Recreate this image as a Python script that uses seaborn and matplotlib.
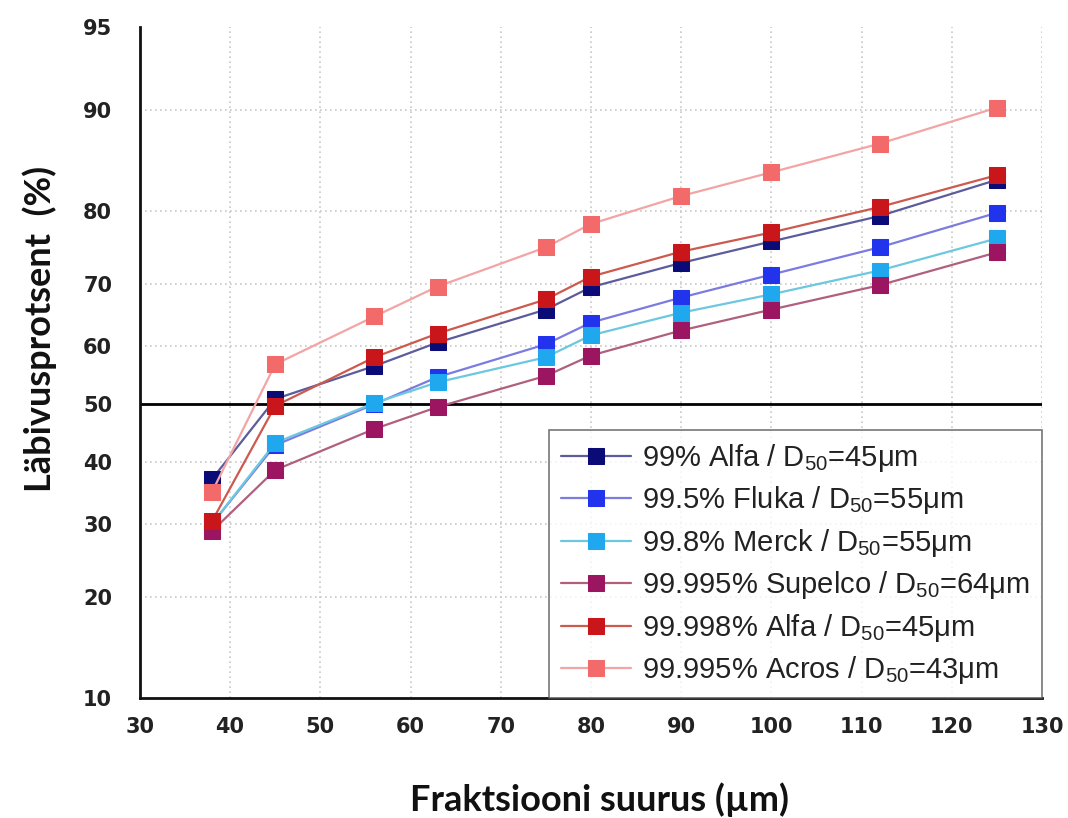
import seaborn as sns
import matplotlib.pyplot as plt
import numpy as np
import pandas as pd
from statistics import NormalDist

# ---------------- DATA ----------------
size_um = [38, 45, 56, 63, 75, 80, 90, 100, 112, 125]

alfa_99 = [37.2, 50.9, 56.6, 60.6, 66.0, 69.5, 73.1, 76.1, 79.4, 83.6]
fluka_995 = [30.1, 42.9, 50.0, 54.7, 60.3, 63.9, 67.9, 71.4, 75.3, 79.8]
merck_998 = [30.1, 43.3, 50.2, 53.8, 58.1, 61.8, 65.5, 68.4, 72.0, 76.5]
supelco_99995 = [29.0, 38.7, 45.7, 49.5, 54.9, 58.4, 62.6, 66.0, 69.8, 74.6]
alfa_99998 = [30.5, 49.7, 58.1, 62.1, 67.6, 71.1, 74.7, 77.3, 80.5, 84.1]
acros_99995 = [35.1, 56.9, 64.9, 69.6, 75.3, 78.4, 81.8, 84.4, 87.2, 90.2]

labels = [
    r"99% Alfa / D$_{\mathrm{50}}$=45μm",
    r"99.5% Fluka / D$_{\mathrm{50}}$=55μm",
    r"99.8% Merck / D$_{\mathrm{50}}$=55μm",
    r"99.995% Supelco / D$_{\mathrm{50}}$=64μm",
    r"99.998% Alfa / D$_{\mathrm{50}}$=45μm",
    r"99.995% Acros / D$_{\mathrm{50}}$=43μm",
]
series = [alfa_99, fluka_995, merck_998, supelco_99995, alfa_99998, acros_99995]

marker_colors = ["#0b0b78", "#2233ee", "#1fa8ee", "#9b1560", "#c8161a", "#f26a6a"]
line_colors = ["#5c5c9c", "#7b7be0", "#6cc8e0", "#b0607e", "#cc5a4e", "#f3a4a4"]

yticks = [10, 20, 30, 40, 50, 60, 70, 80, 90, 95]
xticks = [30, 40, 50, 60, 70, 80, 90, 100, 110, 120, 130]

df = pd.DataFrame({"size": size_um * len(series),
                   "pct": sum(series, []),
                   "sample": np.repeat(labels, len(size_um))})

# ---------------- PROBABILITY SCALE ----------------
nd = NormalDist()


def fwd(p):
    p = np.clip(np.asarray(p, dtype=float), 0.01, 99.99)
    return np.vectorize(lambda v: nd.inv_cdf(v / 100.0), otypes=[float])(p)


def inv(z):
    z = np.asarray(z, dtype=float)
    return np.vectorize(lambda v: nd.cdf(v) * 100.0, otypes=[float])(z)


sns.set_style("white")
plt.rcParams["mathtext.fontset"] = "custom"
plt.rcParams["mathtext.rm"] = "Liberation Sans"
plt.rcParams["mathtext.it"] = "Liberation Sans:italic"

fig = plt.figure(figsize=(10.68, 8.18), dpi=100)
ax = fig.add_axes([0.131, 0.1467, 0.8446, 0.8203])
ax.set_yscale("function", functions=(fwd, inv))

for lab, mc, lc in zip(labels, marker_colors, line_colors):
    sns.lineplot(data=df[df["sample"] == lab], x="size", y="pct", ax=ax,
                 color=lc, linewidth=1.6, marker="s", markersize=11,
                 markerfacecolor=mc, markeredgecolor=mc, label=lab)

ax.axhline(50, color="black", linewidth=2, zorder=1)

tick_font = {"fontsize": 15, "fontweight": "bold", "family": "DejaVu Sans",
             "color": "#222222"}
ax.set_xlim(30, 130)
ax.set_ylim(10, 95)
ax.set_xticks(xticks)
ax.set_yticks(yticks)
ax.set_xticklabels([str(t) for t in xticks], **tick_font)
ax.set_yticklabels([str(t) for t in yticks], **tick_font)
ax.minorticks_off()

ax.grid(True, linestyle=(0, (1, 2)), color="#c8c8c8", linewidth=1.2)
ax.yaxis.get_gridlines()[-1].set_visible(False)
ax.set_axisbelow(True)

for s in ["top", "right"]:
    ax.spines[s].set_visible(False)
for s in ["left", "bottom"]:
    ax.spines[s].set_linewidth(2)
    ax.spines[s].set_color("#111111")
ax.tick_params(direction="out", length=8, width=2, color="#111111", pad=6)
ax.tick_params(axis="y", pad=12)

ax.set_xlabel("Fraktsiooni suurus (µm)", fontsize=26, fontweight="bold",
              family="Lato", color="#111111")
ax.xaxis.set_label_coords(0.51, -0.125)
ax.set_ylabel("Läbivusprotsent  (%)", fontsize=26, fontweight="bold",
              family="Lato", color="#111111")
ax.yaxis.set_label_coords(-0.092, 0.55)

leg = ax.legend(loc="lower right", frameon=True, fancybox=False,
                prop={"family": "Liberation Sans", "size": 21},
                handlelength=2.4, handletextpad=0.4, borderpad=0.4,
                labelspacing=0.36, borderaxespad=0)
leg.get_frame().set_edgecolor("#555555")
leg.get_frame().set_linewidth(1.2)
for t in leg.get_texts():
    t.set_color("#222222")

fig.savefig("out.png", dpi=100)
